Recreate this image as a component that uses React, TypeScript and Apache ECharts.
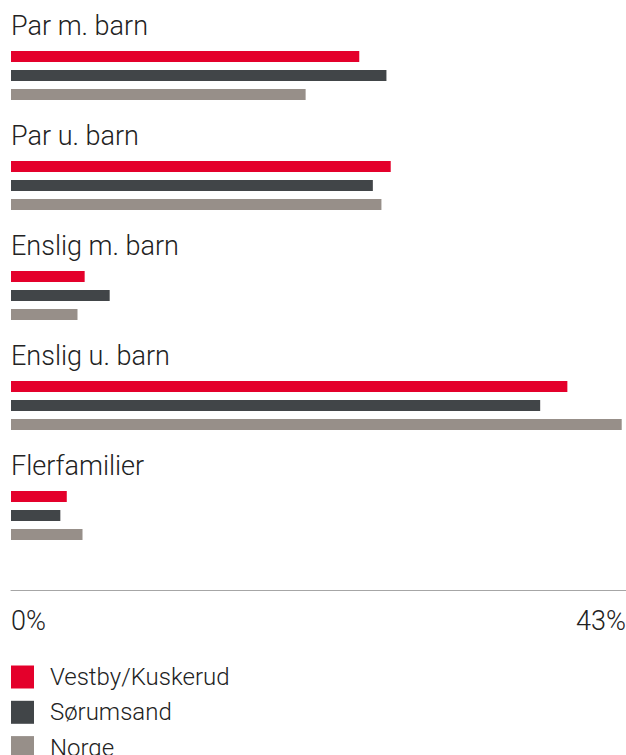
import React, { useEffect, useRef } from "react";
import * as echarts from "echarts";

const categories = ["Par m. barn", "Par u. barn", "Enslig m. barn", "Enslig u. barn", "Flerfamilier"];
const seriesNames = ["Vestby/Kuskerud", "Sørumsand", "Norge"];
const vestby = [24.35, 26.55, 5.15, 38.9, 3.9];
const sorumsand = [26.25, 25.3, 6.9, 37.0, 3.45];
const norge = [20.6, 25.9, 4.65, 42.7, 5.0];
const axisMax = 43;
const tickLabels = ["0%", "43%"];
const colors = ["#e4002b", "#414548", "#978f89"];

export default function App() {
  const ref = useRef<HTMLDivElement>(null);
  useEffect(() => {
    if (!ref.current) return;
    document.body.style.margin = "0";
    document.body.style.overflow = "hidden";
    const chart = echarts.init(ref.current, undefined, { renderer: "svg", width: 626, height: 755 });
    const font = "Roboto";
    const values = [vestby, sorumsand, norge];
    chart.setOption({
      animation: false,
      grid: {
        left: 11,
        right: 0,
        top: 20.5,
        height: 550,
        containLabel: false,
        outerBoundsMode: "none",
      },
      legend: {
        orient: "vertical",
        left: 11,
        top: 665,
        height: 120,
        padding: 0,
        itemWidth: 23,
        itemHeight: 23,
        itemGap: 11.3,
        icon: "rect",
        selectedMode: false,
        data: seriesNames,
        textStyle: {
          fontFamily: font,
          fontSize: 24,
          lineHeight: 23,
          fontWeight: 300,
          color: "#222",
          padding: [0, 0, 0, 11],
        },
      },
      xAxis: {
        type: "value",
        min: 0,
        max: axisMax,
        interval: axisMax,
        position: "bottom",
        offset: 20,
        axisLine: { show: true, lineStyle: { color: "#a6a6a6", width: 1 } },
        axisTick: { show: false },
        splitLine: { show: false },
        axisLabel: {
          margin: 17,
          fontFamily: font,
          fontSize: 27,
          fontWeight: 300,
          color: "#222",
          alignMinLabel: "left",
          alignMaxLabel: "right",
          formatter: (v: number) => (v === 0 ? tickLabels[0] : tickLabels[1]),
        },
      },
      yAxis: {
        type: "category",
        inverse: true,
        data: categories,
        axisLine: { show: false },
        axisTick: { show: false },
        axisLabel: { show: false },
        splitLine: { show: false },
      },
      series: seriesNames.map((name, i) => ({
        name,
        type: "bar",
        data: values[i],
        barWidth: 11,
        barGap: "72.73%",
        itemStyle: { color: colors[i] },
        label:
          i === 0
            ? {
                show: true,
                position: [0, -25],
                align: "left",
                verticalAlign: "middle",
                formatter: "{b}",
                fontFamily: font,
                fontSize: 27,
                fontWeight: 300,
                color: "#222",
              }
            : { show: false },
      })),
    });
    return () => chart.dispose();
  }, []);
  return (
    <div
      ref={ref}
      style={{ position: "absolute", left: 0, top: 0, width: 626, height: 755 }}
    />
  );
}
